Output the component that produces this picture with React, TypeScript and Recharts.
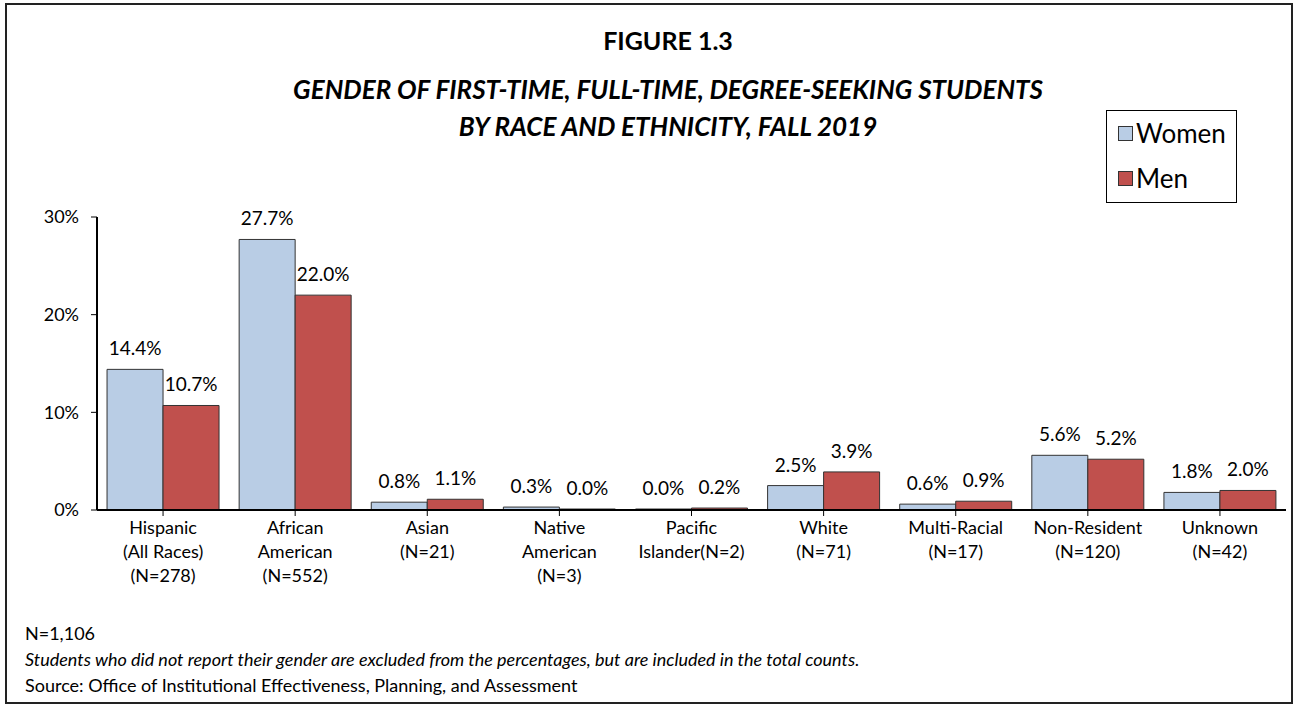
import React from "react";
import { BarChart, Bar, XAxis, YAxis, LabelList } from "recharts";

const categories = [
  "Hispanic\n(All Races)\n(N=278)",
  "African\nAmerican\n(N=552)",
  "Asian\n(N=21)",
  "Native\nAmerican\n(N=3)",
  "Pacific\nIslander(N=2)",
  "White\n(N=71)",
  "Multi-Racial\n(N=17)",
  "Non-Resident\n(N=120)",
  "Unknown\n(N=42)",
];
const women = [14.4, 27.7, 0.8, 0.3, 0.0, 2.5, 0.6, 5.6, 1.8];
const men = [10.7, 22.0, 1.1, 0.0, 0.2, 3.9, 0.9, 5.2, 2.0];
const yTicks = [0, 10, 20, 30];

const data = categories.map((c, i) => ({ cat: c, women: women[i], men: men[i] }));

const FONT = "Lato, 'Open Sans', sans-serif";
const WOMEN_COLOR = "#B9CDE5";
const MEN_COLOR = "#C0504D";

const XTick = (props: any) => {
  const { x, y, payload } = props;
  const lines = String(payload.value).split("\n");
  return (
    <g transform={`translate(${x},${y})`}>
      <text textAnchor="middle" fontFamily={FONT} fontSize={18} fill="#000">
        {lines.map((l, i) => (
          <tspan key={i} x={0} y={16 + i * 24}>
            {l}
          </tspan>
        ))}
      </text>
    </g>
  );
};

const LegendBox = () => (
  <div
    style={{
      position: "absolute",
      left: 1106,
      top: 110,
      width: 131,
      height: 93,
      border: "1px solid #000",
      background: "#fff",
      fontFamily: FONT,
      fontSize: 26,
      boxSizing: "border-box",
    }}
  >
    {[
      { name: "Women", color: WOMEN_COLOR, top: 7 },
      { name: "Men", color: MEN_COLOR, top: 52 },
    ].map((it) => (
      <div key={it.name} style={{ position: "absolute", left: 11, top: it.top, display: "flex", alignItems: "center", lineHeight: "30px", whiteSpace: "nowrap" }}>
        <span style={{ display: "inline-block", width: 13, height: 13, background: it.color, border: "1px solid #333", marginRight: 3 }} />
        <span>{it.name}</span>
      </div>
    ))}
  </div>
);

const fmt = (v: any) => `${Number(v).toFixed(1)}%`;

export default function App() {
  return (
    <div style={{ position: "absolute", left: 0, top: 0, width: 1297, height: 708, background: "#fff", overflow: "hidden" }}>
      <div
        style={{
          position: "absolute",
          left: 5,
          top: 3,
          width: 1288,
          height: 701,
          border: "2px solid #222",
          boxSizing: "border-box",
        }}
      />
      <div style={{ position: "absolute", left: 668, top: 24, transform: "translateX(-50%)", fontFamily: FONT, fontWeight: 700, fontSize: 25, whiteSpace: "nowrap", lineHeight: "32px" }}>
        FIGURE 1.3
      </div>
      <div style={{ position: "absolute", left: 668, top: 71, transform: "translateX(-50%)", fontFamily: FONT, fontWeight: 700, fontStyle: "italic", fontSize: 26, whiteSpace: "nowrap", textAlign: "center", lineHeight: "37px" }}>
        GENDER OF FIRST-TIME, FULL-TIME, DEGREE-SEEKING STUDENTS
        <br />
        BY RACE AND ETHNICITY, FALL 2019
      </div>
      <div style={{ position: "absolute", left: 0, top: 0 }}>
        <BarChart
          width={1297}
          height={708}
          data={data}
          margin={{ top: 217, left: 0, right: 11, bottom: 0 }}
          barCategoryGap="7.6%"
          barGap={0}
        >
          <XAxis
            dataKey="cat"
            interval={0}
            tick={<XTick />}
            axisLine={{ stroke: "#000", strokeWidth: 2 }}
            tickLine={{ stroke: "#000", strokeWidth: 1 }}
            tickSize={6}
            height={198}
          />
          <YAxis
            domain={[0, 30]}
            ticks={yTicks}
            tickFormatter={(v: any) => `${v}%`}
            axisLine={{ stroke: "#000", strokeWidth: 2 }}
            tickLine={{ stroke: "#000", strokeWidth: 1 }}
            tickSize={6}
            width={97}
            tick={{ fontFamily: FONT, fontSize: 18, fill: "#000" }}
            tickMargin={12}
          />
          <Bar dataKey="women" fill={WOMEN_COLOR} stroke="#333" strokeWidth={1} minPointSize={1} isAnimationActive={false}>
            <LabelList dataKey="women" position="top" offset={14} formatter={fmt} style={{ fontFamily: FONT, fontSize: 19, fill: "#000" }} />
          </Bar>
          <Bar dataKey="men" fill={MEN_COLOR} stroke="#333" strokeWidth={1} minPointSize={1} isAnimationActive={false}>
            <LabelList dataKey="men" position="top" offset={14} formatter={fmt} style={{ fontFamily: FONT, fontSize: 19, fill: "#000" }} />
          </Bar>
        </BarChart>
      </div>
      <LegendBox />
      <div style={{ position: "absolute", left: 25, top: 620, fontFamily: FONT, fontSize: 18, lineHeight: "26px", whiteSpace: "nowrap" }}>
        <div>N=1,106</div>
        <div style={{ fontStyle: "italic" }}>
          Students who did not report their gender are excluded from the percentages, but are included in the total counts.
        </div>
        <div>Source: Office of Institutional Effectiveness, Planning, and Assessment</div>
      </div>
    </div>
  );
}
